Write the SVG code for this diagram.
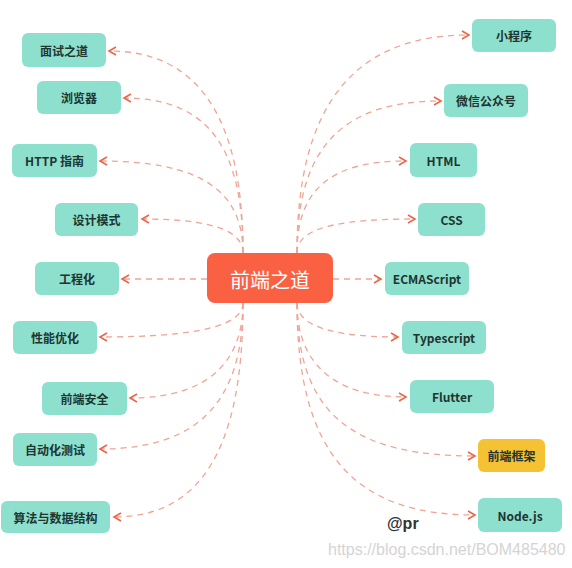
<svg xmlns="http://www.w3.org/2000/svg" width="572" height="568" viewBox="0 0 572 568">
<style>
.n rect{fill:#8EE0CE}
.n text{font-family:"Noto Sans CJK SC","Liberation Sans",sans-serif;font-size:12px;font-weight:600;fill:#1E3530;text-anchor:middle;dominant-baseline:central}
.y rect{fill:#F4C232}
.c path{fill:none;stroke:#EFA595;stroke-width:1.3;stroke-dasharray:6 5;marker-end:url(#ar)}
</style>
<defs>
<marker id="ar" markerUnits="userSpaceOnUse" markerWidth="12" markerHeight="12" refX="8" refY="5" orient="auto">
<path d="M1,1 L8,5 L1,9" fill="none" stroke="#E8674A" stroke-width="1.6"/>
</marker>
</defs>
<rect width="572" height="568" fill="#ffffff"/>
<g id="connectors" class="c">
<path d="M243,253 C243,120 200,51 109,51"/>
<path d="M243,253 C243,150 210,98 124,98"/>
<path d="M243,253 C243,190 200,161 100,161"/>
<path d="M243,253 C243,230 210,219 142,219"/>
<path d="M207,279 L122,279"/>
<path d="M243,303 C243,325 200,337 100,337"/>
<path d="M243,303 C243,360 210,398 130,398"/>
<path d="M243,303 C243,400 200,449 100,449"/>
<path d="M243,303 C243,450 200,517 114,517"/>
<path d="M297,253 C297,110 350,35 469,35"/>
<path d="M297,253 C297,150 340,101 441,101"/>
<path d="M297,253 C297,190 330,161 406,161"/>
<path d="M297,253 C297,230 330,219 415,219"/>
<path d="M333,279 L381,279"/>
<path d="M297,303 C297,325 330,337 398,337"/>
<path d="M297,303 C297,360 330,397 406,397"/>
<path d="M297,303 C297,420 360,456 475,456"/>
<path d="M297,303 C297,460 360,515 475,515"/>
</g>
<g id="center">
<rect x="207" y="253" width="126" height="50" rx="8" fill="#FA6142"/>
<text x="270" y="279" font-family="Noto Sans CJK SC,sans-serif" font-size="20" fill="#ffffff" text-anchor="middle" dominant-baseline="central">前端之道</text>
</g>
<g id="n-mianshi" class="n"><rect x="22" y="33" width="84" height="34" rx="6"/><text x="64" y="50">面试之道</text></g>
<g id="n-browser" class="n"><rect x="37" y="81" width="84" height="33" rx="6"/><text x="79" y="97.5">浏览器</text></g>
<g id="n-http" class="n"><rect x="12" y="144" width="85" height="33" rx="6"/><text x="54.5" y="160.5">HTTP 指南</text></g>
<g id="n-pattern" class="n"><rect x="55" y="203" width="83" height="33" rx="6"/><text x="96.5" y="219.5">设计模式</text></g>
<g id="n-eng" class="n"><rect x="35" y="262" width="84" height="33" rx="6"/><text x="77" y="278.5">工程化</text></g>
<g id="n-perf" class="n"><rect x="13" y="321" width="84" height="33" rx="6"/><text x="55" y="337.5">性能优化</text></g>
<g id="n-sec" class="n"><rect x="42" y="382" width="85" height="33" rx="6"/><text x="84.5" y="398.5">前端安全</text></g>
<g id="n-test" class="n"><rect x="13" y="433" width="84" height="33" rx="6"/><text x="55" y="449.5">自动化测试</text></g>
<g id="n-algo" class="n"><rect x="1" y="501" width="109" height="32" rx="6"/><text x="55.5" y="517">算法与数据结构</text></g>
<g id="n-mini" class="n"><rect x="472" y="19" width="84" height="33" rx="6"/><text x="514" y="35.5">小程序</text></g>
<g id="n-wechat" class="n"><rect x="444" y="84" width="84" height="33" rx="6"/><text x="486" y="100.5">微信公众号</text></g>
<g id="n-html" class="n"><rect x="410" y="143" width="67" height="34" rx="6"/><text x="443.5" y="160">HTML</text></g>
<g id="n-css" class="n"><rect x="418" y="203" width="67" height="33" rx="6"/><text x="451.5" y="219.5">CSS</text></g>
<g id="n-ecma" class="n"><rect x="385" y="262" width="84" height="33" rx="6"/><text x="427" y="278.5">ECMAScript</text></g>
<g id="n-ts" class="n"><rect x="402" y="321" width="84" height="33" rx="6"/><text x="444" y="337.5">Typescript</text></g>
<g id="n-flutter" class="n"><rect x="410" y="380" width="84" height="33" rx="6"/><text x="452" y="396.5">Flutter</text></g>
<g id="n-fw" class="n y"><rect x="478" y="439" width="67" height="33" rx="6"/><text x="511.5" y="455.5">前端框架</text></g>
<g id="n-node" class="n"><rect x="478" y="498" width="84" height="34" rx="6"/><text x="520" y="515">Node.js</text></g>
<text x="387" y="529" font-family="Liberation Sans,sans-serif" font-size="16" font-weight="bold" fill="#333333">@pr</text>
<text x="328" y="555" font-family="Liberation Sans,sans-serif" font-size="16" fill="#D4D4D4">https://blog.csdn.net/BOM485480</text>
</svg>
